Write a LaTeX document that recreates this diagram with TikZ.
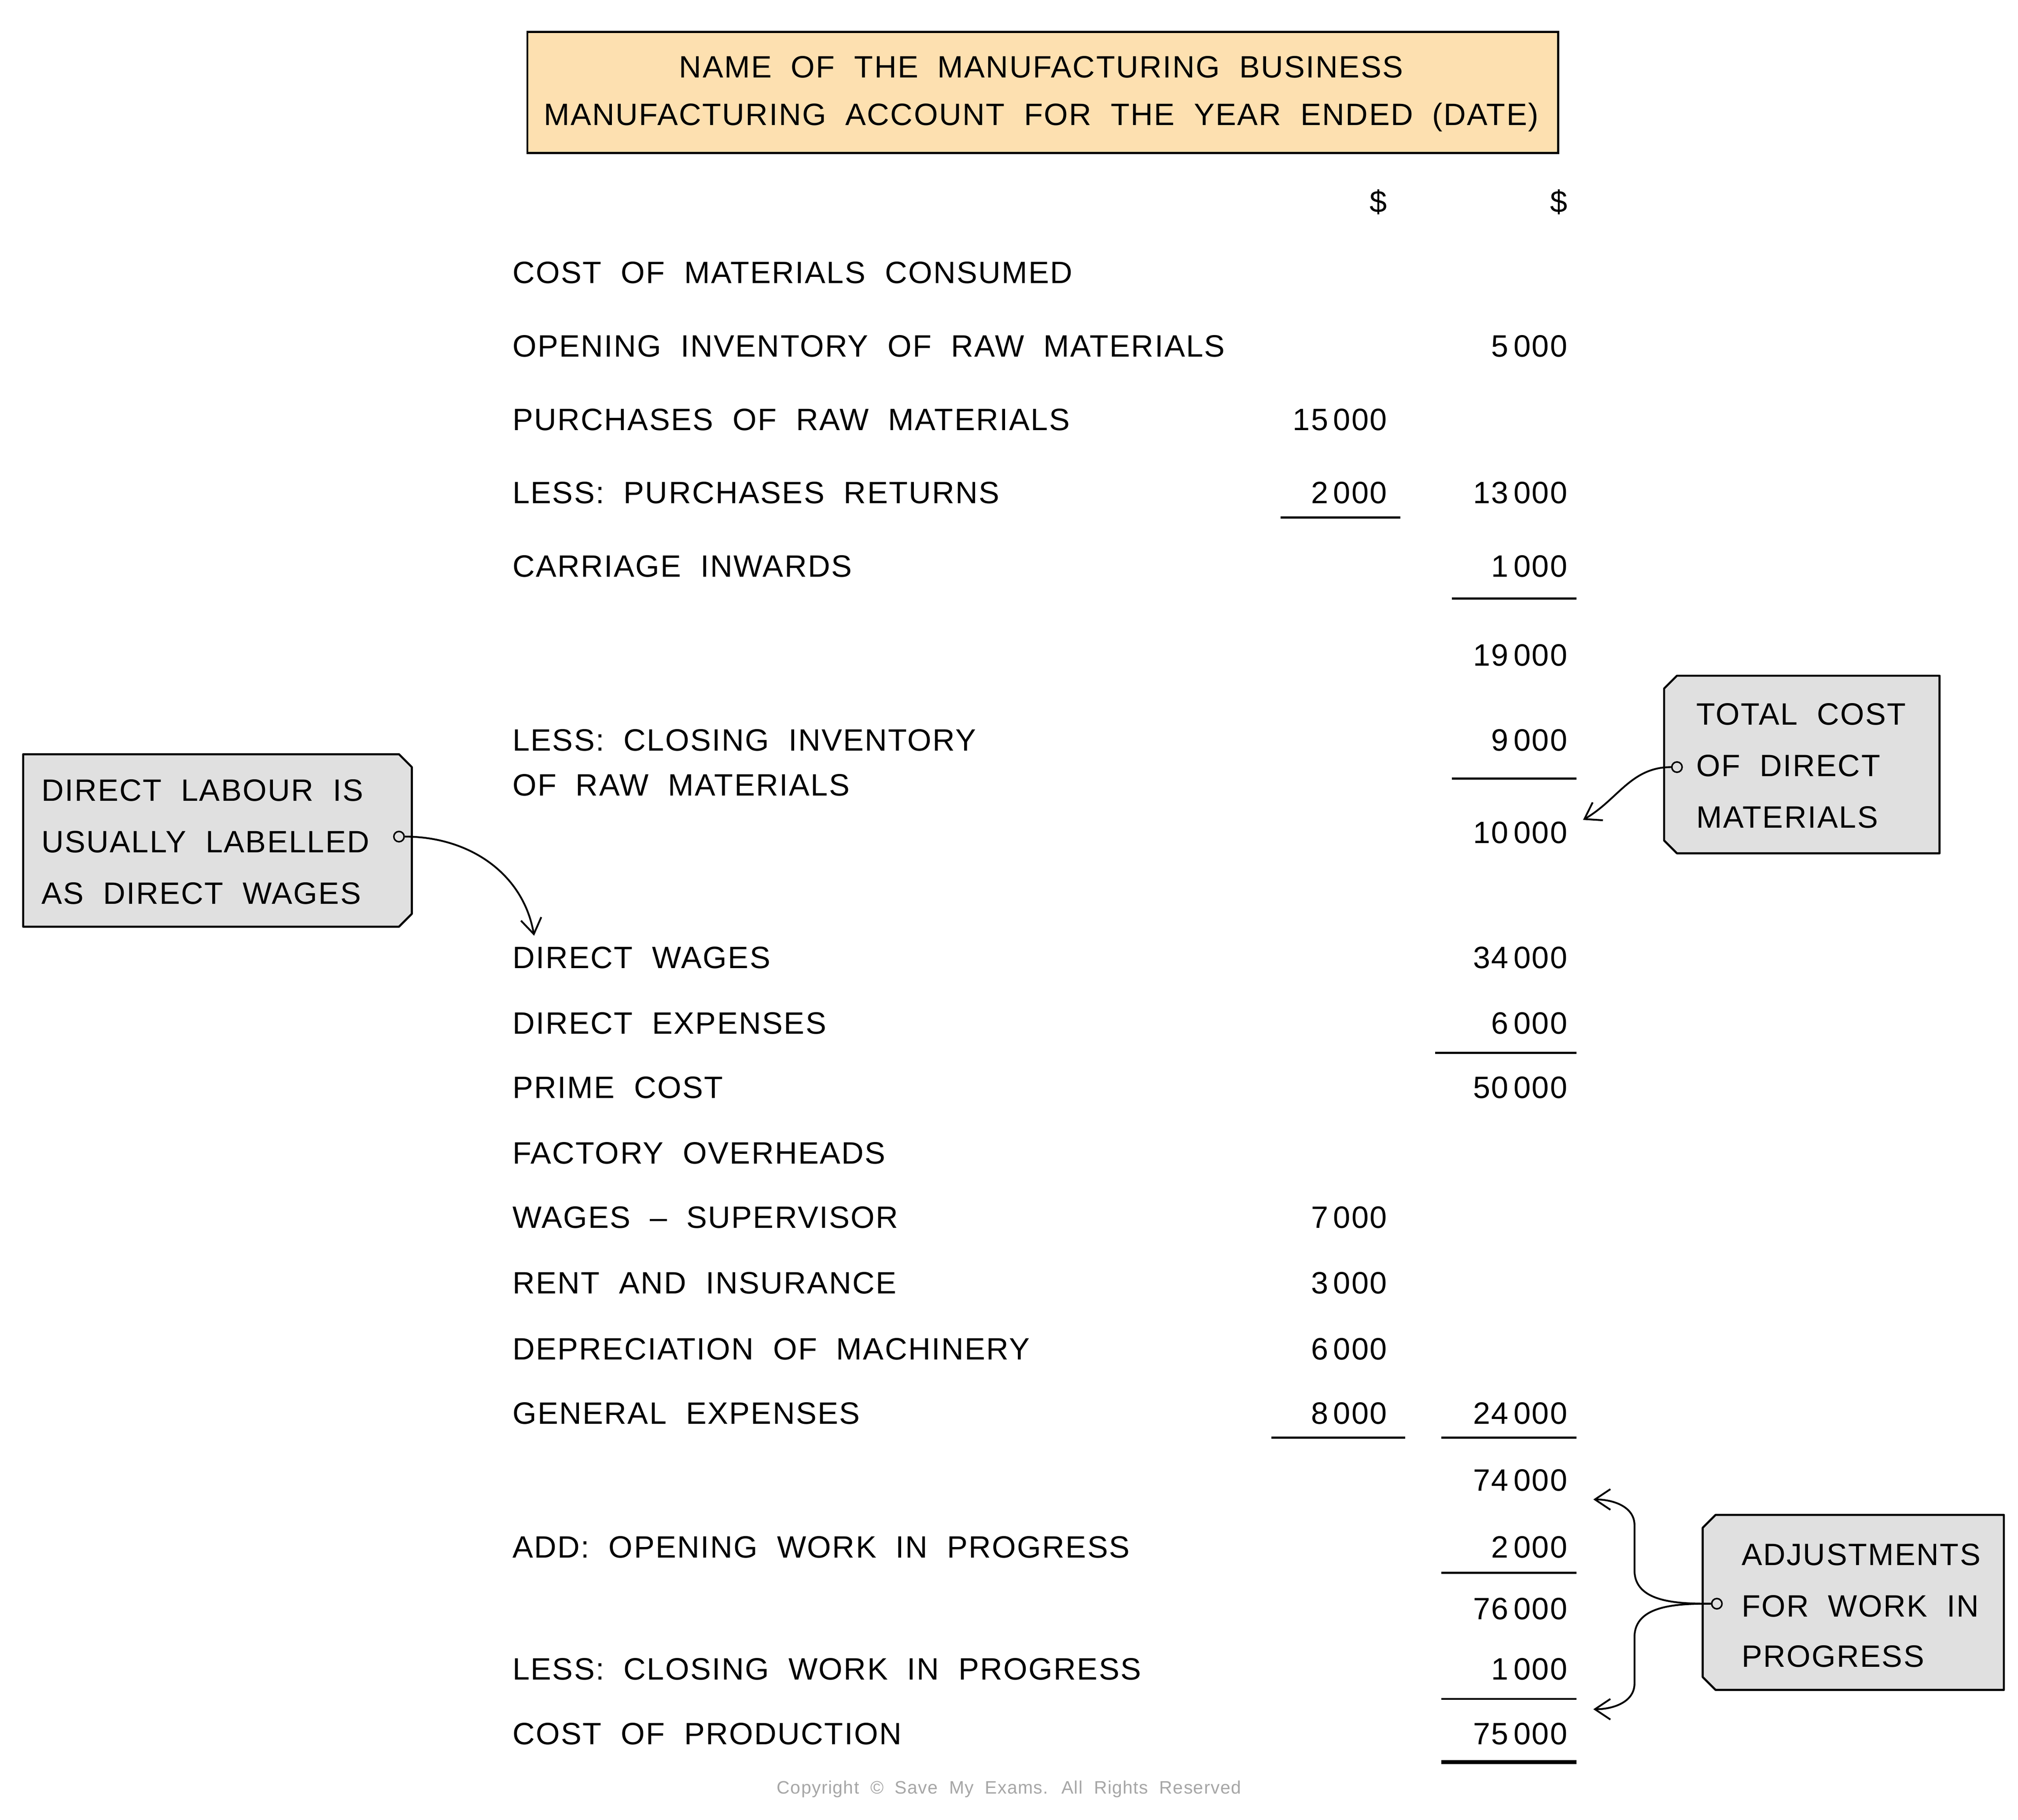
\documentclass[tikz,border=0pt]{standalone}
\usepackage{fontspec}
\setmainfont{Liberation Sans}[LetterSpace=3.5,WordSpace=2]
\usetikzlibrary{calc,arrows.meta}
\definecolor{tagfill}{RGB}{224,224,224}
\definecolor{titlefill}{RGB}{253,224,176}
\begin{document}
\begin{tikzpicture}[x=1pt,y=-1pt,
    txt/.style={anchor=west, inner sep=0pt, font=\fontsize{24}{28}\selectfont},
    amt/.style={anchor=east, inner sep=0pt, font=\fontsize{24}{28}\selectfont},
    tag/.style={draw, line width=1.6pt, fill=tagfill, line join=round},
    rule/.style={line width=1.6pt},
    pointer/.style={line width=1.4pt, -{Straight Barb[length=12pt,width=16pt,line width=1.4pt]}}
    ]
      \useasboundingbox (0,0) rectangle (1568,1414);
      % title
      \node[draw, line width=1.6pt, fill=titlefill, minimum width=801pt, minimum height=94pt, anchor=north west] (title) at (409,24) {};
      \node[txt, anchor=center] (t1) at (809,52) {NAME OF THE MANUFACTURING BUSINESS};
      \node[txt, anchor=center] (t2) at (809,91) {MANUFACTURING ACCOUNT FOR THE YEAR ENDED (DATE)};
      \node[amt] (cur1) at (1078,157) {\$};
      \node[amt] (cur2) at (1218,157) {\$};
      % labels
      \foreach \y/\t [count=\i] in {212/COST OF MATERIALS CONSUMED, 269/OPENING INVENTORY OF RAW MATERIALS,
          326/PURCHASES OF RAW MATERIALS, 383/LESS: PURCHASES RETURNS, 440/CARRIAGE INWARDS,
          575/LESS: CLOSING INVENTORY, 610/OF RAW MATERIALS, 744/DIRECT WAGES, 795/DIRECT EXPENSES,
          845/PRIME COST, 896/FACTORY OVERHEADS, 946/WAGES -- SUPERVISOR, 997/RENT AND INSURANCE,
          1048/DEPRECIATION OF MACHINERY, 1098/GENERAL EXPENSES, 1202/ADD: OPENING WORK IN PROGRESS,
          1297/LESS: CLOSING WORK IN PROGRESS, 1347/COST OF PRODUCTION}
        \node[txt] (lbl\i) at (398,\y) {\t};
      % first column
      \foreach \y/\v [count=\i] in {326/15\,000, 383/2\,000, 946/7\,000, 997/3\,000, 1048/6\,000, 1098/8\,000}
        \node[amt] (a\i) at (1078,\y) {\v};
      % second column
      \foreach \y/\v [count=\i] in {269/5\,000, 383/13\,000, 440/1\,000, 509/19\,000, 575/9\,000, 647/10\,000,
          744/34\,000, 795/6\,000, 845/50\,000, 1098/24\,000, 1150/74\,000, 1202/2\,000, 1250/76\,000,
          1297/1\,000, 1347/75\,000}
        \node[amt] (b\i) at (1218,\y) {\v};
      % rules
      \draw[rule] (995,402) -- (1088,402);
      \draw[rule] (1128,465) -- (1225,465);
      \draw[rule] (1128,605) -- (1225,605);
      \draw[rule] (1115,818) -- (1225,818);
      \draw[rule] (988,1117) -- (1092,1117);
      \draw[rule] (1120,1117) -- (1225,1117);
      \draw[rule] (1120,1222) -- (1225,1222);
      \draw[rule] (1120,1320) -- (1225,1320);
      \draw[line width=3pt] (1120,1369) -- (1225,1369);
      \node[inner sep=0pt, text=gray!70, font=\fontsize{14}{16}\selectfont] (copy) at (784,1390) {Copyright \textcopyright{} Save My Exams. All Rights Reserved};
      % left tag
      \draw[tag] (18,586) -- (310,586) -- (320,596) -- (320,710) -- (310,720) -- (18,720) -- cycle;
      \node[txt] (l1) at (32,614) {DIRECT LABOUR IS};
      \node[txt] (l2) at (32,654) {USUALLY LABELLED};
      \node[txt] (l3) at (32,694) {AS DIRECT WAGES};
      \node[draw, circle, line width=1.2pt, inner sep=0pt, minimum size=8pt] (hole1) at (310,650) {};
      \coordinate (tip1) at (415,727);
      \draw[pointer] (hole1) to[out=0, in=100] (tip1);
      % right tag 1
      \draw[tag] (1303,525) -- (1507,525) -- (1507,663) -- (1303,663) -- (1293,653) -- (1293,535) -- cycle;
      \node[txt] (r1) at (1318,555) {TOTAL COST};
      \node[txt] (r2) at (1318,595) {OF DIRECT};
      \node[txt] (r3) at (1318,635) {MATERIALS};
      \node[draw, circle, line width=1.2pt, inner sep=0pt, minimum size=8pt] (hole2) at (1303,596) {};
      \coordinate (tip2) at (1230,637);
      \draw[pointer] (hole2) to[out=180, in=30] (tip2);
      % right tag 2
      \draw[tag] (1333,1177) -- (1557,1177) -- (1557,1313) -- (1333,1313) -- (1323,1303) -- (1323,1187) -- cycle;
      \node[txt] (s1) at (1353,1208) {ADJUSTMENTS};
      \node[txt] (s2) at (1353,1248) {FOR WORK IN};
      \node[txt] (s3) at (1353,1287) {PROGRESS};
      \node[draw, circle, line width=1.2pt, inner sep=0pt, minimum size=8pt] (hole3) at (1334,1246) {};
      \coordinate (tip3) at (1238,1165);
      \coordinate (tip4) at (1238,1328);
      \draw[pointer] (hole3) to[out=180, in=-90] (1270,1220) -- (1270,1185) to[out=90, in=0] (tip3);
      \draw[pointer] (hole3) to[out=180, in=90] (1270,1272) -- (1270,1308) to[out=-90, in=0] (tip4);
\end{tikzpicture}
\end{document}
